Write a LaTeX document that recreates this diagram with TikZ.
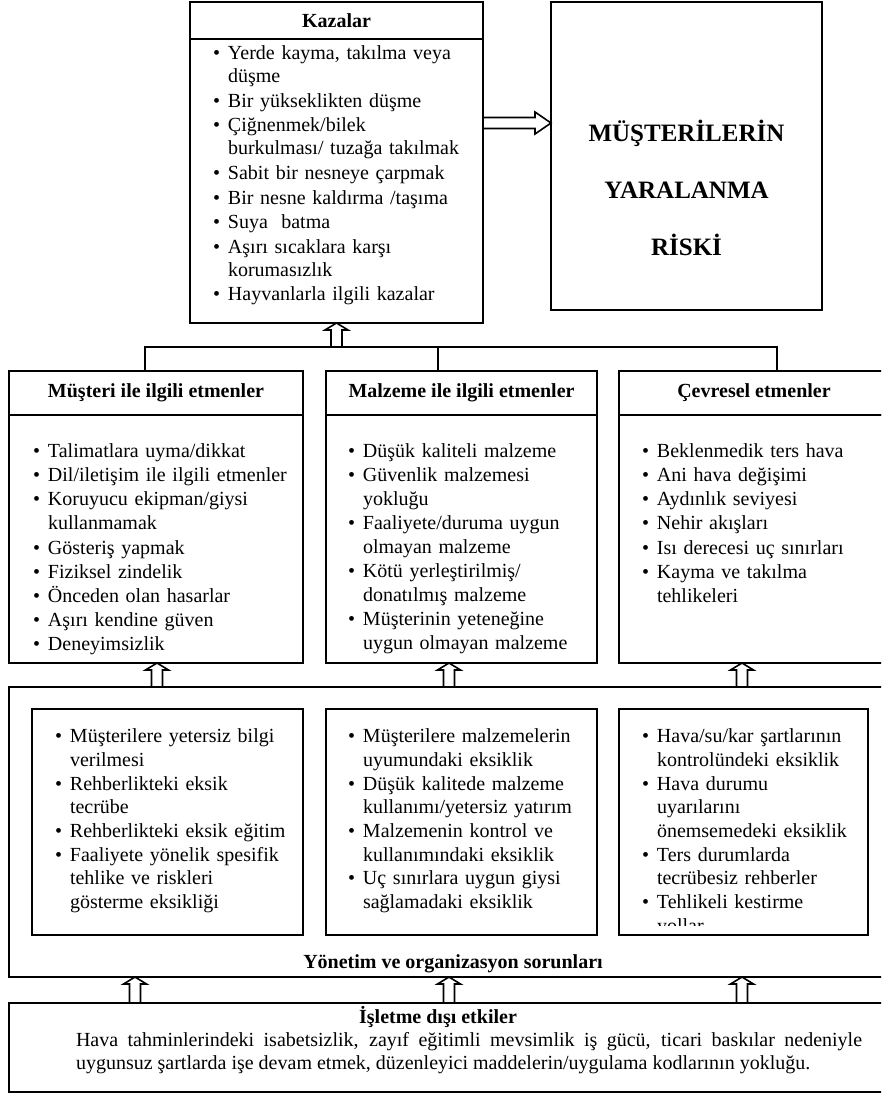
\documentclass[tikz,border=0pt]{standalone}
\usepackage{fontspec}
\setmainfont{Liberation Serif}
\usetikzlibrary{calc}
\tikzset{
  box/.style={draw, line width=1.8pt, rectangle, inner sep=0pt, outer sep=0pt},
  ttl/.style={font=\fontsize{20}{24}\selectfont\bfseries},
  lst/.style={anchor=north west, inner sep=0pt, outer sep=0pt, align=left, text width=#1},
  blk/.style={draw, line width=1.6pt, line join=miter},
  conn/.style={line width=1.8pt},
}
\newcommand{\boxnode}[6][]{\node[box,#1, minimum width={#4-#2}, minimum height={#5-#3}] (#6) at ({(#2+#4)/2},{(#3+#5)/2}) {};}
\newcommand{\bi}[1]{\par\hangindent=15pt\hangafter=1\noindent\makebox[15pt][l]{\textbullet}#1}
\newcommand{\holup}[2]{\draw[blk] let \p1=#1, \p2=#2 in
  (\x1,\y1) -- (\x1+11.5pt,\y1-7pt) -- (\x1+5.5pt,\y1-7pt) -- (\x1+5.5pt,\y2) -- (\x1-5.5pt,\y2) -- (\x1-5.5pt,\y1-7pt) -- (\x1-11.5pt,\y1-7pt) -- cycle;}
\newcommand{\holright}[2]{\draw[blk] let \p1=#1, \p2=#2 in
  (\x1,\y1) -- (\x1-16pt,\y1+11pt) -- (\x1-16pt,\y1+5.5pt) -- (\x2,\y1+5.5pt) -- (\x2,\y1-5.5pt) -- (\x1-16pt,\y1-5.5pt) -- (\x1-16pt,\y1-11pt) -- cycle;}
\begin{document}
\begin{tikzpicture}[x=1pt,y=-1pt]
\useasboundingbox (0,0) rectangle (881,1095);
\clip (0,0) rectangle (881,1095);
\fill[white] (0,0) rectangle (881,1095);

% ---------- top row ----------
\boxnode{190}{2}{483}{39}{kzh}
\boxnode{190}{39}{483}{323}{kzb}
\node[ttl] (kzt) at (kzh) {Kazalar};
\node[lst=265, font=\fontsize{20}{22.5}\selectfont] (kzl) at (213,35) {\setlength{\parskip}{2.3pt}%
\bi{\rule{0pt}{18pt}Yerde kayma, takılma veya\newline düşme}
\bi{Bir yükseklikten düşme}
\bi{Çiğnenmek/bilek\newline burkulması/ tuzağa takılmak}
\bi{Sabit bir nesneye çarpmak}
\bi{Bir nesne kaldırma /taşıma}
\bi{Suya\ \ batma}
\bi{Aşırı sıcaklara karşı\newline korumasızlık}
\bi{Hayvanlarla ilgili kazalar}\par};

\boxnode{551}{2}{822}{310}{risk}
\node[align=center, font=\fontsize{25}{57}\selectfont\bfseries] (riskt) at (686.5,188) {MÜŞTERİLERİN\\YARALANMA\\RİSKİ};

\coordinate (ary) at (0,123);
\holright{(risk.west |- ary)}{(kzb.east |- ary)}

% ---------- factor row ----------
\boxnode{9}{371}{303}{415}{f1h}
\boxnode{9}{415}{303}{663}{f1b}
\boxnode{326}{371}{597}{415}{f2h}
\boxnode{326}{415}{597}{663}{f2b}
\boxnode{619}{371}{889}{415}{f3h}
\boxnode{619}{415}{889}{663}{f3b}
\node[ttl] (f1t) at (f1h) {Müşteri ile ilgili etmenler};
\node[ttl] (f2t) at (f2h) {Malzeme ile ilgili etmenler};
\node[ttl] (f3t) at (754,393) {Çevresel etmenler};

\node[lst=265, font=\fontsize{20}{24.2}\selectfont] (f1l) at (33,433) {%
\bi{\rule{0pt}{18pt}Talimatlara uyma/dikkat}
\bi{Dil/iletişim ile ilgili etmenler}
\bi{Koruyucu ekipman/giysi\newline kullanmamak}
\bi{Gösteriş yapmak}
\bi{Fiziksel zindelik}
\bi{Önceden olan hasarlar}
\bi{Aşırı kendine güven}
\bi{Deneyimsizlik}\par};
\node[lst=245, font=\fontsize{20}{24}\selectfont] (f2l) at (348,433) {%
\bi{\rule{0pt}{18pt}Düşük kaliteli malzeme}
\bi{Güvenlik malzemesi\newline yokluğu}
\bi{Faaliyete/duruma uygun\newline olmayan malzeme}
\bi{Kötü yerleştirilmiş/\newline donatılmış malzeme}
\bi{Müşterinin yeteneğine\newline uygun olmayan malzeme}\par};
\node[lst=235, font=\fontsize{20}{24.2}\selectfont] (f3l) at (642,433) {%
\bi{\rule{0pt}{18pt}Beklenmedik ters hava}
\bi{Ani hava değişimi}
\bi{Aydınlık seviyesi}
\bi{Nehir akışları}
\bi{Isı derecesi uç sınırları}
\bi{Kayma ve takılma\newline tehlikeleri}\par};

% connector from factors to Kazalar
\coordinate (hub) at (337,347);
\coordinate (v1) at (145,0);
\coordinate (v2) at (438,0);
\coordinate (v3) at (777,0);
\draw[conn] (f1h.north -| v1) -- (v1 |- hub) -- (v3 |- hub) -- (f3h.north -| v3);
\draw[conn] (f2h.north -| v2) -- (v2 |- hub);
\holup{(kzb.south)}{(hub)}

% ---------- management ----------
\boxnode{9}{687}{889}{977}{mg}
\boxnode{32}{709}{303}{935}{m1}
\boxnode{326}{709}{597}{935}{m2}
\node[lst=240, font=\fontsize{20}{23.7}\selectfont] (m1l) at (55,719) {%
\bi{\rule{0pt}{18pt}Müşterilere yetersiz bilgi\newline verilmesi}
\bi{Rehberlikteki eksik\newline tecrübe}
\bi{Rehberlikteki eksik eğitim}
\bi{Faaliyete yönelik spesifik\newline tehlike ve riskleri\newline gösterme eksikliği}\par};
\node[lst=245, font=\fontsize{20}{23.7}\selectfont] (m2l) at (348,719) {%
\bi{\rule{0pt}{18pt}Müşterilere malzemelerin\newline uyumundaki eksiklik}
\bi{Düşük kalitede malzeme\newline kullanımı/yetersiz yatırım}
\bi{Malzemenin kontrol ve\newline kullanımındaki eksiklik}
\bi{Uç sınırlara uygun giysi\newline sağlamadaki eksiklik}\par};
\begin{scope}
\clip (619,709) rectangle (868,925);
\node[lst=225, font=\fontsize{20}{23.7}\selectfont] (m3l) at (642,719) {%
\bi{\rule{0pt}{18pt}Hava/su/kar şartlarının\newline kontrolündeki eksiklik}
\bi{Hava durumu\newline uyarılarını\newline önemsemedeki eksiklik}
\bi{Ters durumlarda\newline tecrübesiz rehberler}
\bi{Tehlikeli kestirme\newline yollar}\par};
\end{scope}
\boxnode{619}{709}{868}{935}{m3}
\node[ttl] (mgt) at (453,964) {Yönetim ve organizasyon sorunları};

\coordinate (a1) at (157,0);
\coordinate (a2) at (449,0);
\coordinate (a3) at (742,0);
\holup{(f1b.south -| a1)}{(mg.north -| a1)}
\holup{(f2b.south -| a2)}{(mg.north -| a2)}
\holup{(f3b.south -| a3)}{(mg.north -| a3)}

% ---------- external ----------
\boxnode{9}{1003}{889}{1092}{ie}
\node[ttl] (iet) at (438,1017) {İşletme dışı etkiler};
\node[lst=786, align=justify, font=\fontsize{20}{23}\selectfont] (iep) at (76,1028) {\rule{0pt}{18pt}Hava tahminlerindeki isabetsizlik, zayıf eğitimli mevsimlik iş gücü, ticari baskılar nedeniyle\linebreak uygunsuz şartlarda işe devam etmek, düzenleyici maddelerin/uygulama kodlarının yokluğu.};

\coordinate (b1) at (135,0);
\coordinate (b2) at (449,0);
\coordinate (b3) at (742,0);
\holup{(mg.south -| b1)}{(ie.north -| b1)}
\holup{(mg.south -| b2)}{(ie.north -| b2)}
\holup{(mg.south -| b3)}{(ie.north -| b3)}
\end{tikzpicture}
\end{document}
